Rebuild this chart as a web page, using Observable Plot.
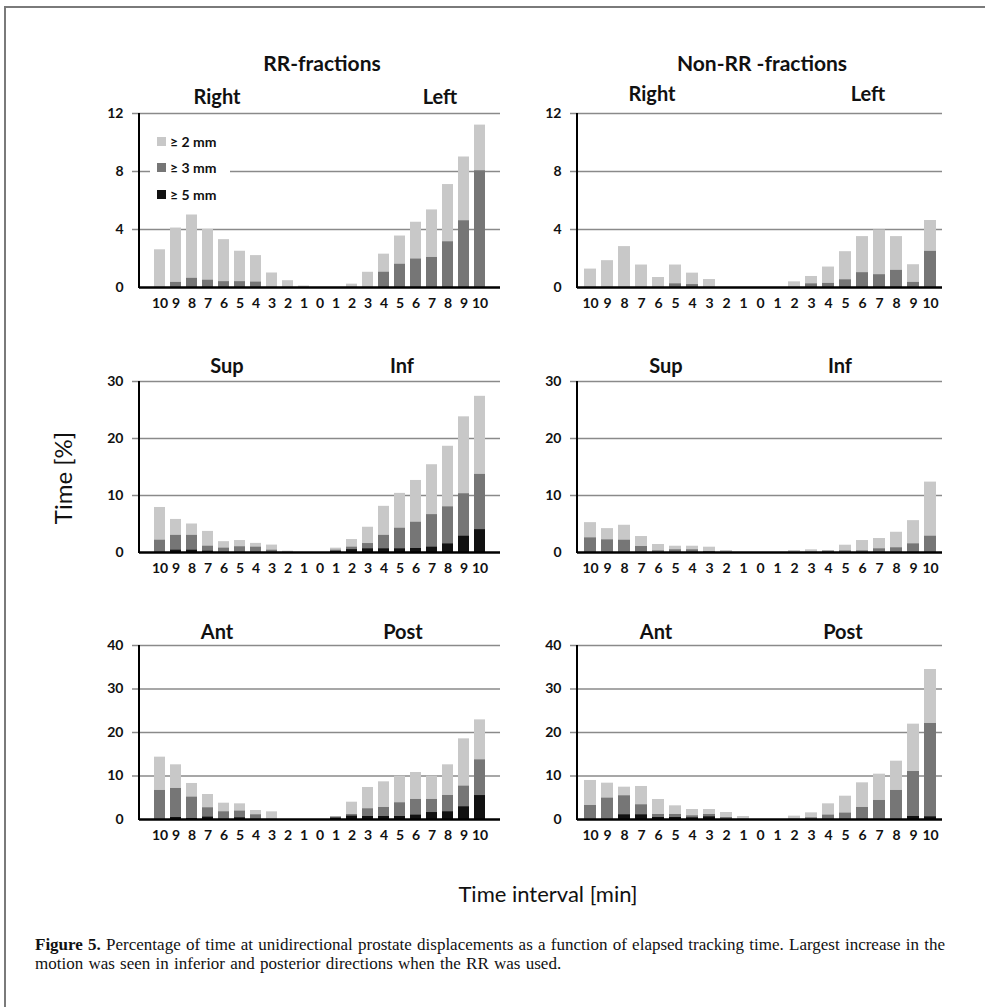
<!DOCTYPE html>
<html><head><meta charset="utf-8">
<script src="https://cdn.jsdelivr.net/npm/d3@7"></script>
<script src="https://cdn.jsdelivr.net/npm/@observablehq/plot@0.6"></script>
<style>
body{margin:0;background:#fff;}
#fig{position:relative;width:985px;height:1007px;overflow:hidden;font-family:Lato,"Open Sans",sans-serif;color:#111;}
.abs{position:absolute;white-space:nowrap;}
.ttl{font-weight:bold;font-size:21px;transform:translate(-50%,-50%);}
.sub{font-weight:bold;font-size:20px;transform:translate(-50%,-50%);}
#border{position:absolute;left:4px;top:6px;width:990px;height:1010px;border-left:2px solid #7a7a7a;border-top:2px solid #7a7a7a;}
.leg{position:absolute;left:150px;top:128px;width:80px;background:#fff;font-weight:bold;font-size:14px;}
.leg div{height:26.5px;display:flex;align-items:center;}
.sw{display:inline-block;width:9px;height:9px;margin:0 4px 0 7px;}
#caption{position:absolute;left:35px;top:935px;font-family:"Liberation Serif","DejaVu Serif",serif;font-size:17px;line-height:19px;word-spacing:1px;color:#111;}
</style></head><body><div id="fig"><div id="border"></div></div>
<script>
const labels = ["10","9","8","7","6","5","4","3","2","1","0","1","2","3","4","5","6","7","8","9","10"];
const thresholds = ["≥ 2 mm","≥ 3 mm","≥ 5 mm"];
const colors = ["#c8c8c8","#767676","#111111"];

// RR-fractions, Right / Left
const rrRL_2 = [2.6,4.1,5.0,4.0,3.3,2.5,2.2,1.0,0.47,0.1,0,0,0.23,1.05,2.3,3.55,4.5,5.35,7.1,9.0,11.2];
const rrRL_3 = [0,0.35,0.63,0.5,0.4,0.4,0.37,0,0,0,0,0,0,0,1.05,1.6,1.96,2.07,3.15,4.6,8.05];
const rrRL_5 = [0,0,0,0,0,0,0,0,0,0,0,0,0,0,0,0,0,0,0,0,0];
// Non-RR-fractions, Right / Left
const nonRL_2 = [1.27,1.85,2.82,1.55,0.69,1.55,0.99,0.55,0,0,0,0,0.39,0.76,1.41,2.47,3.51,3.97,3.51,1.57,4.62];
const nonRL_3 = [0,0,0,0,0,0.25,0.2,0,0,0,0,0,0,0.25,0.28,0.53,1.02,0.88,1.18,0.35,2.49];
const nonRL_5 = [0,0,0,0,0,0,0,0,0,0,0,0,0,0,0,0,0,0,0,0,0];
// RR-fractions, Sup / Inf
const rrSI_2 = [7.9,5.8,5.0,3.7,1.9,2.1,1.6,1.3,0.23,0,0,0.76,2.27,4.43,8.1,10.37,12.64,15.4,18.64,23.8,27.4];
const rrSI_3 = [2.15,3.0,3.0,1.1,0.76,1.0,0.93,0.4,0,0,0,0.4,0.93,1.57,3.0,4.25,5.3,6.64,8.0,10.3,13.7];
const rrSI_5 = [0,0.4,0.4,0.23,0,0,0,0,0,0,0,0.2,0.5,0.64,0.64,0.64,0.7,0.93,1.5,2.85,4.0];
// Non-RR-fractions, Sup / Inf
const nonSI_2 = [5.24,4.19,4.78,2.8,1.4,1.1,1.1,0.93,0.35,0,0,0,0.35,0.47,0.35,1.28,2.1,2.45,3.55,5.59,12.35];
const nonSI_3 = [2.56,2.21,2.15,1.05,0.29,0.47,0.47,0.17,0,0,0,0,0,0,0.23,0.29,0.29,0.64,0.82,1.51,2.85];
const nonSI_5 = [0,0,0,0,0,0,0,0,0,0,0,0,0,0,0,0,0,0,0,0,0];
// RR-fractions, Ant / Post
const rrAP_2 = [14.33,12.57,8.28,5.75,3.75,3.6,2.07,1.76,0,0,0,0.69,3.98,7.36,8.66,9.96,10.8,9.96,12.57,18.54,22.9];
const rrAP_3 = [6.67,7.13,5.13,2.68,1.76,1.92,1.07,0,0,0,0,0.54,1.15,2.45,2.76,3.83,4.6,4.6,5.52,7.66,13.7];
const rrAP_5 = [0,0.46,0.23,0.54,0,0.38,0,0,0,0,0,0.3,0.77,0.69,0.69,0.69,1.0,1.6,1.76,2.91,5.5];
// Non-RR-fractions, Ant / Post
const nonAP_2 = [8.97,8.35,7.43,7.59,4.6,3.14,2.3,2.3,1.61,0.69,0,0,0.77,1.53,3.6,5.36,8.43,10.42,13.41,21.92,34.48];
const nonAP_3 = [3.22,4.9,5.44,3.37,1.15,1.15,0.84,1.15,0.46,0,0,0,0,0.38,1.0,1.46,2.76,4.37,6.67,11.03,22.07];
const nonAP_5 = [0,0,1.07,1.07,0.46,0.46,0.38,0.61,0,0,0,0,0,0,0,0,0,0,0,0.69,0.61];

const ticksRL = [0,4,8,12];
const ticksSI = [0,10,20,30];
const ticksAP = [0,10,20,30,40];

const fig = document.getElementById("fig");

function panel(v2, v3, v5, yTicks, left, top, plotTop, plotBottom, plotLeft, plotRight) {
  const mL = plotLeft - left, mT = plotTop - top, mB = 34, mR = 2;
  const W = plotRight - left + mR, H = plotBottom - top + mB;
  const rows = labels.map((l, i) => ({i, a: v2[i], b: v3[i], c: v5[i]}));
  const svg = Plot.plot({
    width: W, height: H,
    marginLeft: mL, marginRight: mR, marginTop: mT, marginBottom: mB,
    style: {fontFamily: "Lato, 'Open Sans', sans-serif", fontSize: "14px", fontWeight: "bold", color: "#111", background: "transparent", overflow: "visible"},
    x: {type: "band", domain: d3.range(labels.length), padding: 0.32, tickSize: 0, tickPadding: 11, tickFormat: i => labels[i], label: null},
    y: {domain: [0, yTicks[yTicks.length - 1]], ticks: yTicks, tickSize: 0, tickPadding: 16, tickFormat: d => String(d), label: null},
    marks: [
      Plot.ruleY(yTicks.filter(d => d > 0), {stroke: "#8a8a8a", strokeWidth: 1.6, insetLeft: -7}),
      Plot.barY(rows, {x: "i", y: "a", fill: colors[0]}),
      Plot.barY(rows, {x: "i", y: "b", fill: colors[1]}),
      Plot.barY(rows, {x: "i", y: "c", fill: colors[2]}),
      Plot.ruleY([0], {stroke: "#000", strokeWidth: 2.5})
    ]
  });
  d3.select(svg).append("line")
    .attr("x1", mL).attr("x2", mL).attr("y1", mT).attr("y2", H - mB + 1)
    .attr("stroke", "#000").attr("stroke-width", 2);
  svg.style.position = "absolute";
  svg.style.left = left + "px";
  svg.style.top = top + "px";
  fig.appendChild(svg);
}

// left column: axis x=139, right 500 ; right column: axis 577, right 942
panel(rrRL_2, rrRL_3, rrRL_5, ticksRL, 90, 98, 113, 287, 139, 500);
panel(nonRL_2, nonRL_3, nonRL_5, ticksRL, 528, 98, 113, 287, 577, 942);
panel(rrSI_2, rrSI_3, rrSI_5, ticksSI, 90, 366, 381, 552, 139, 500);
panel(nonSI_2, nonSI_3, nonSI_5, ticksSI, 528, 366, 381, 552, 577, 942);
panel(rrAP_2, rrAP_3, rrAP_5, ticksAP, 90, 630, 645, 819, 139, 500);
panel(nonAP_2, nonAP_3, nonAP_5, ticksAP, 528, 630, 645, 819, 577, 942);

function addText(cls, txt, x, y, extra) {
  const d = document.createElement("div");
  d.className = "abs " + cls;
  d.textContent = txt;
  d.style.left = x + "px"; d.style.top = y + "px";
  if (extra) Object.assign(d.style, extra);
  fig.appendChild(d);
  return d;
}
addText("ttl", "RR-fractions", 322, 62);
addText("ttl", "Non-RR -fractions", 762, 62);
addText("sub", "Right", 217, 96);
addText("sub", "Left", 440, 96);
addText("sub", "Right", 652, 93);
addText("sub", "Left", 868, 93);
addText("sub", "Sup", 227, 365);
addText("sub", "Inf", 402, 365);
addText("sub", "Sup", 666, 365);
addText("sub", "Inf", 840, 365);
addText("sub", "Ant", 217, 631);
addText("sub", "Post", 403, 631);
addText("sub", "Ant", 656, 631);
addText("sub", "Post", 843, 631);
addText("", "Time [%]", 62, 478, {fontSize: "24px", transform: "translate(-50%,-50%) rotate(-90deg)"});
addText("", "Time interval [min]", 548, 893, {fontSize: "22px", transform: "translate(-50%,-50%)"});

// legend
const leg = document.createElement("div");
leg.className = "leg";
thresholds.forEach((t, k) => {
  const r = document.createElement("div");
  const s = document.createElement("span");
  s.className = "sw"; s.style.background = colors[k];
  r.appendChild(s);
  r.appendChild(document.createTextNode(t));
  leg.appendChild(r);
});
fig.appendChild(leg);

const cap = document.createElement("div");
cap.id = "caption";
cap.innerHTML = "<b>Figure 5.</b> Percentage of time at unidirectional prostate displacements as a function of elapsed tracking time. Largest increase in the<br>motion was seen in inferior and posterior directions when the RR was used.";
fig.appendChild(cap);
</script></body></html>
